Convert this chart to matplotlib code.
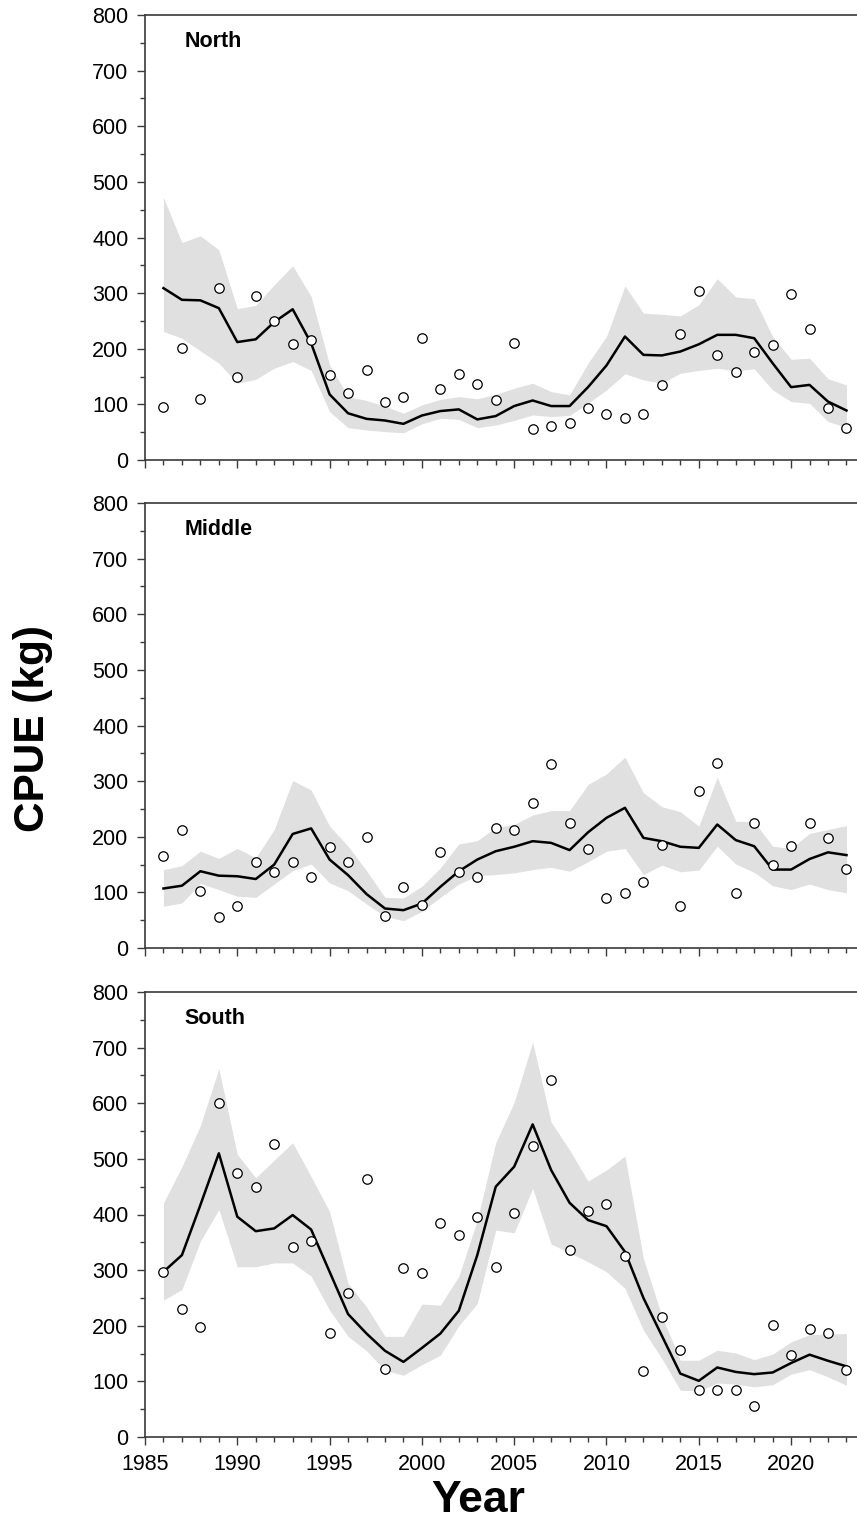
import matplotlib
matplotlib.use("Agg")
import matplotlib.pyplot as plt
import numpy as np
from matplotlib.ticker import MultipleLocator

plt.rcParams['font.family'] = ['Liberation Sans', 'DejaVu Sans']

years = list(range(1986, 2024))

# North
north_obs = [95, 202, 110, 310, 149, 295, 250, 208, 215, 152, 121, 161, 104, 113, 219, 128,
             154, 137, 108, 211, 55, 62, 67, 94, 82, 75, 82, 135, 226, 303, 188, 158, 194,
             206, 299, 235, 94, 58]
north_fit = [309, 288, 287, 273, 212, 217, 248, 271, 210, 118, 84, 74, 71, 65, 80, 88, 91,
             73, 79, 97, 107, 97, 97, 131, 170, 222, 189, 188, 195, 208, 225, 225, 219, 174,
             131, 135, 105, 89]
north_hi = [472, 391, 403, 378, 272, 278, 315, 349, 294, 171, 114, 107, 97, 84, 99, 109,
            114, 110, 118, 129, 138, 123, 117, 174, 222, 313, 264, 262, 259, 279, 326, 293,
            290, 222, 181, 183, 146, 135]
north_lo = [231, 219, 196, 174, 138, 145, 165, 177, 161, 87, 58, 54, 51, 49, 65, 75, 73,
            58, 63, 71, 81, 78, 80, 102, 126, 155, 144, 138, 156, 161, 165, 160, 164, 126,
            105, 102, 69, 59]

# Middle
middle_obs = [166, 213, 103, 56, 76, 155, 137, 155, 128, 181, 155, 200, 58, 110, 77, 172,
              136, 127, 216, 213, 260, 330, 225, 178, 89, 98, 118, 185, 76, 283, 333, 99,
              225, 149, 183, 224, 197, 142]
middle_fit = [107, 112, 138, 130, 129, 124, 150, 205, 215, 159, 131, 97, 71, 68, 80, 110,
              138, 159, 174, 182, 192, 189, 176, 208, 234, 252, 198, 192, 182, 180, 222, 194,
              183, 141, 141, 160, 172, 167]
middle_hi = [141, 148, 174, 161, 179, 162, 213, 301, 284, 219, 183, 139, 91, 90, 111, 144,
             187, 193, 217, 222, 239, 247, 247, 294, 313, 343, 279, 254, 245, 219, 307, 228,
             227, 183, 179, 206, 213, 220]
middle_lo = [75, 81, 116, 105, 93, 91, 115, 139, 151, 117, 103, 79, 57, 49, 66, 91, 115,
             130, 132, 135, 141, 145, 138, 155, 174, 179, 132, 149, 137, 140, 183, 151, 136,
             112, 105, 115, 105, 99]

# South
south_obs = [297, 230, 197, 600, 475, 450, 527, 341, 352, 187, 258, 463, 123, 303, 294,
             385, 364, 395, 306, 402, 523, 641, 336, 406, 418, 325, 119, 216, 156, 84, 84,
             84, 56, 202, 147, 195, 187, 120]
south_fit = [297, 327, 417, 510, 396, 370, 375, 399, 373, 297, 221, 186, 155, 135, 160, 186,
             227, 327, 450, 486, 562, 480, 421, 390, 379, 333, 250, 182, 114, 101, 125, 117,
             113, 116, 133, 148, 137, 127]
south_hi = [421, 486, 560, 662, 508, 466, 498, 529, 468, 405, 276, 234, 181, 181, 239, 237,
            289, 390, 529, 602, 710, 566, 516, 460, 480, 505, 321, 217, 138, 138, 156, 151,
            139, 149, 171, 184, 185, 186]
south_lo = [246, 265, 352, 409, 306, 306, 313, 313, 289, 228, 181, 155, 120, 111, 130, 147,
            200, 240, 372, 367, 447, 347, 331, 315, 297, 267, 192, 141, 84, 83, 97, 95, 90,
            94, 113, 121, 108, 93]

regions = ["North", "Middle", "South"]
obs_all = [north_obs, middle_obs, south_obs]
fit_all = [north_fit, middle_fit, south_fit]
hi_all = [north_hi, middle_hi, south_hi]
lo_all = [north_lo, middle_lo, south_lo]

fig = plt.figure(figsize=(8.57, 15.23), dpi=100)

# panel positions in figure fraction
left = 145 / 857
width = 1.0 - left
tops = [15, 503, 992]
panel_h = 445 / 1523

spine_col = "#3a3a3a"
for k in range(3):
    bottom = 1 - (tops[k] + 445) / 1523
    ax = fig.add_axes([left, bottom, width, panel_h])

    ax.fill_between(years, lo_all[k], hi_all[k], color="#e0e0e0", linewidth=0, zorder=1)
    ax.plot(years, fit_all[k], color="black", linewidth=1.8, zorder=2)
    ax.plot(years, obs_all[k], linestyle="none", marker="o", markersize=6.8,
            markerfacecolor="white", markeredgecolor="black", markeredgewidth=0.9, zorder=3)

    ax.set_xlim(1985, 2023.57)
    ax.set_ylim(0, 800)
    ax.xaxis.set_major_locator(MultipleLocator(5))
    ax.xaxis.set_minor_locator(MultipleLocator(1))
    ax.yaxis.set_major_locator(MultipleLocator(100))
    ax.yaxis.set_minor_locator(MultipleLocator(50))
    ax.tick_params(axis="both", which="major", direction="out", length=5.5, width=1.0,
                   colors=spine_col, labelcolor="black", labelsize=15.5, pad=6.5)
    ax.tick_params(axis="both", which="minor", direction="out", length=3.5, width=1.0,
                   colors=spine_col)
    if k < 2:
        ax.tick_params(axis="x", which="both", labelbottom=False)

    ax.spines["right"].set_visible(False)
    for s in ["left", "bottom", "top"]:
        ax.spines[s].set_color(spine_col)
        ax.spines[s].set_linewidth(1.2)

    ax.text(0.055, 0.94, regions[k], transform=ax.transAxes, fontsize=15.5,
            fontweight="bold", ha="left", va="center")

fig.text(33 / 857, 1 - 729 / 1523, "CPUE (kg)", rotation=90, fontsize=30.5,
         fontweight="bold", ha="center", va="center")
fig.text(478 / 857, 1 - 1500 / 1523, "Year", fontsize=32, fontweight="bold",
         ha="center", va="center")

fig.savefig("out.png", dpi=100)
